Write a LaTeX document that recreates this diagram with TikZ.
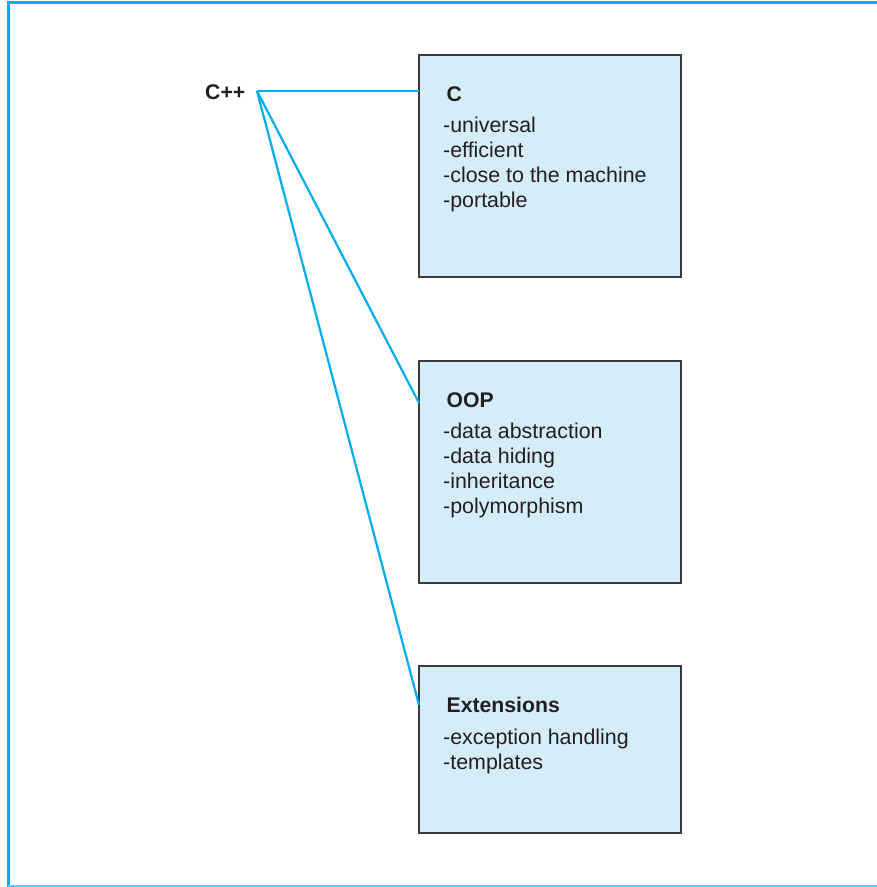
\documentclass[tikz,border=0pt]{standalone}
\usepackage{fontspec}
\setmainfont{Liberation Sans}
\definecolor{cyanline}{HTML}{00AEEF}
\definecolor{cyanlight}{HTML}{55CCF5}
\definecolor{boxfill}{HTML}{D4EDF9}
\definecolor{boxedge}{HTML}{3A3A3A}
\definecolor{txt}{HTML}{231F20}
\begin{document}
\begin{tikzpicture}[x=1pt,y=-1pt,
  boxstyle/.style={draw=boxedge,line width=1.3pt,fill=boxfill},
  conn/.style={draw=cyanline,line width=2.2pt},
  title/.style={anchor=base west,inner sep=0pt,font=\fontsize{21.2}{25}\selectfont\bfseries,text=txt},
  item/.style={anchor=base west,inner sep=0pt,font=\fontsize{21.4}{25.2}\selectfont,text=txt}]
\useasboundingbox (0,0) rectangle (877,887);
% frame
\draw[cyanline,line width=3pt] (8,887) -- (8,2) -- (877,2);
\draw[cyanlight,line width=1.8pt] (8,886) -- (877,886);
% boxes
\draw[boxstyle] (419,55) rectangle (681,277);
\draw[boxstyle] (419,361) rectangle (681,583);
\draw[boxstyle] (419,666) rectangle (681,833);
\coordinate (cin) at (419,91);
\coordinate (oopin) at (419,403);
\coordinate (extin) at (419,705);
% C++
\node[title] (cpp) at (205,99) {C++};
\coordinate (hub) at (257,91);
% C box
\node[title] (ct) at (446.5,101) {C};
\node[item] (c1) at (443,132) {-universal};
\node[item] (c2) at (443,157.3) {-efficient};
\node[item] (c3) at (443,182.6) {-close to the machine};
\node[item] (c4) at (443,207.9) {-portable};
% OOP box
\node[title] (ot) at (446.5,407) {OOP};
\node[item] (o1) at (443,438) {-data abstraction};
\node[item] (o2) at (443,463.3) {-data hiding};
\node[item] (o3) at (443,488.6) {-inheritance};
\node[item] (o4) at (443,513.9) {-polymorphism};
% Extensions box
\node[title] (et) at (446.5,712.5) {Extensions};
\node[item] (e1) at (443,744) {-exception handling};
\node[item] (e2) at (443,769.3) {-templates};
% connectors
\draw[conn] (hub) -- (cin);
\draw[conn] (hub) -- (oopin);
\draw[conn] (hub) -- (extin);
\end{tikzpicture}
\end{document}
